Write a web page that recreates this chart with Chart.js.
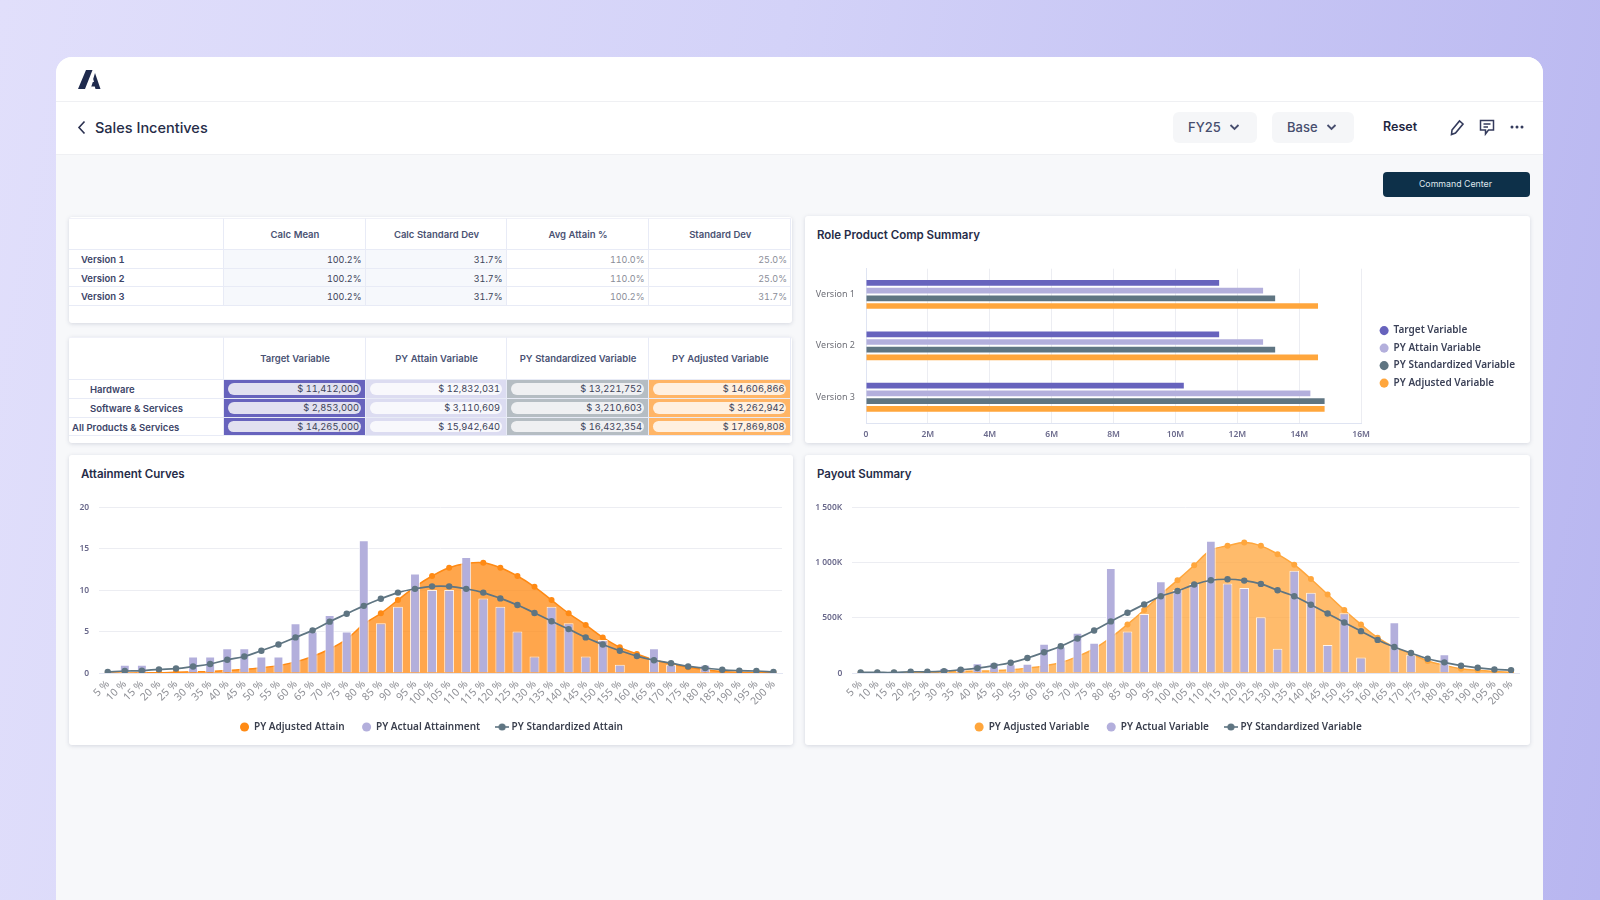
<!DOCTYPE html>
<html>
<head>
<meta charset="utf-8">
<title>Sales Incentives</title>
<script src="https://cdn.jsdelivr.net/npm/chart.js@4"></script>
<style>
* { box-sizing: border-box; }
html, body { margin: 0; width: 1600px; height: 900px; overflow: hidden; }
body { background: linear-gradient(100deg, #e1dffb 0%, #d3d2f8 45%, #b8b6f0 100%); font-family: Inter, sans-serif; position: relative; }
.abs { position: absolute; }
#page { left: 56px; top: 57px; width: 1487px; height: 860px; background: #f7f8fa; border-radius: 16px 16px 0 0; }
#topbar { left: 56px; top: 57px; width: 1487px; height: 45px; background: #fff; border-radius: 16px 16px 0 0; border-bottom: 1px solid #eff0f3; }
#navbar { left: 56px; top: 102px; width: 1487px; height: 53px; background: #fff; border-bottom: 1px solid #eff0f3; }
#title { left: 95px; top: 117px; font-size: 14.5px; font-weight: 500; color: #262c48; line-height: 21px; }
.pill { top: 112px; height: 31px; background: #f5f6f8; border-radius: 6px; font-size: 13px; font-weight: 500; color: #474e6e; line-height: 31px; padding-left: 15px; }
#reset { left: 1383px; top: 117px; font-size: 12.5px; font-weight: 600; color: #1d2540; line-height: 20px; }
#command { left: 1383px; top: 172px; width: 147px; height: 25px; background: #0d3049; border-radius: 4px; color: #dfe6ec; font-size: 8.8px; line-height: 24px; text-align: center; padding-right: 2px; }
.card { background: #fff; border-radius: 3px; box-shadow: 0 1px 4px rgba(60, 70, 110, 0.18); }
.cardtitle { font-size: 11.5px; font-weight: 600; color: #262c48; line-height: 16px; }
.grid { display: grid; left: 69px; width: 722px; grid-template-columns: 154.5px 142px 141px 142px 142.5px; font-variant-numeric: tabular-nums; }
.cell { border-right: 1px solid #e8ebf6; border-bottom: 1px solid #e8ebf6; font-size: 9px; color: #3c4258; text-align: right; padding-right: 3px; position: relative; }
.head { font-weight: 600; color: #4a5273; text-align: center; padding: 0 0 0 2px; font-size: 9.5px; border-top: 1px solid #f0f1f8; }
.rowname { font-weight: 600; font-size: 9.5px; color: #3c4468; text-align: left; padding-left: 12px; }
.tint { background: #f6f8fc; }
.soft { color: #8a8d98; }
.fill { padding: 0; }
.fill span { position: absolute; left: 4px; right: 4px; top: 3px; bottom: 3px; border-radius: 7px; line-height: 12px; padding-right: 1.5px; text-align: right; font-size: 9.3px; }
canvas { position: absolute; }
</style>
</head>
<body>
<div class="abs" id="page"></div>
<div class="abs" id="topbar"></div>
<div class="abs" id="navbar"></div>
<svg class="abs" style="left:78px;top:70px" width="23" height="19" viewBox="0 0 23 19"><path d="M0 19 L8 0 H14.5 L7 19 Z M12.5 19 L14.8 12 H16 L15.2 9 L17 3 L22.5 19 H17.5 L16.8 16.5 H13.2 Z" fill="#1f2a4d"/></svg>
<svg class="abs" style="left:77px;top:120px" width="10" height="15" viewBox="0 0 10 15"><path d="M7.5 1.5 L2 7.5 L7.5 13.5" fill="none" stroke="#2b3150" stroke-width="1.6"/></svg>
<div class="abs" id="title">Sales Incentives</div>
<div class="abs pill" style="left:1173px;width:84px">FY25<svg class="abs" style="left:56px;top:11px" width="11" height="9" viewBox="0 0 11 9"><path d="M1.5 2 L5.5 6 L9.5 2" fill="none" stroke="#474e6e" stroke-width="1.8"/></svg></div>
<div class="abs pill" style="left:1272px;width:82px">Base<svg class="abs" style="left:54px;top:11px" width="11" height="9" viewBox="0 0 11 9"><path d="M1.5 2 L5.5 6 L9.5 2" fill="none" stroke="#474e6e" stroke-width="1.8"/></svg></div>
<div class="abs" id="reset">Reset</div>
<svg class="abs" style="left:1449px;top:119px" width="16" height="17" viewBox="0 0 16 17"><path d="M3 11 L10.5 2 L14 5 L6.5 14 L2.5 15.5 Z" fill="none" stroke="#343b5c" stroke-width="1.6"/></svg>
<svg class="abs" style="left:1479px;top:119px" width="16" height="17" viewBox="0 0 16 17"><path d="M1.5 1.5 H14.5 V11 H9.5 L6.5 15 V11 H1.5 Z M4.5 5 H11.5 M4.5 8 H9" fill="none" stroke="#343b5c" stroke-width="1.5"/></svg>
<svg class="abs" style="left:1510px;top:124px" width="14" height="6" viewBox="0 0 14 6"><circle cx="2" cy="3" r="1.5" fill="#343b5c"/><circle cx="7" cy="3" r="1.5" fill="#343b5c"/><circle cx="12" cy="3" r="1.5" fill="#343b5c"/></svg>
<div class="abs" id="command">Command Center</div>

<div class="abs card" style="left:69px;top:217px;width:723px;height:106px"></div>
<div class="abs grid" id="statsGrid" style="top:218px;grid-template-rows:32px 19px 18px 19px"></div>
<div class="abs card" style="left:69px;top:337px;width:723px;height:106px"></div>
<div class="abs grid" id="compGrid" style="top:337px;grid-template-rows:43px 19px 18.5px 18.5px"></div>

<div class="abs card" style="left:805px;top:216px;width:725px;height:227px"></div>
<div class="abs cardtitle" style="left:817px;top:227px">Role Product Comp Summary</div>
<canvas id="roleChart"></canvas>

<div class="abs card" style="left:69px;top:455px;width:724px;height:290px"></div>
<div class="abs cardtitle" style="left:81px;top:466px">Attainment Curves</div>
<canvas id="attainChart"></canvas>

<div class="abs card" style="left:805px;top:455px;width:725px;height:290px"></div>
<div class="abs cardtitle" style="left:817px;top:466px">Payout Summary</div>
<canvas id="payoutChart"></canvas>

<script>
var bandLabels = ["5 %","10 %","15 %","20 %","25 %","30 %","35 %","40 %","45 %","50 %","55 %","60 %","65 %","70 %","75 %","80 %","85 %","90 %","95 %","100 %","105 %","110 %","115 %","120 %","125 %","130 %","135 %","140 %","145 %","150 %","155 %","160 %","165 %","170 %","175 %","180 %","185 %","190 %","195 %","200 %"];

var attainAdjusted = [0,0,0.05,0.05,0.1,0.15,0.2,0.3,0.45,0.65,0.9,1.35,2,2.9,4.1,5.9,7.2,8.8,10.4,11.7,12.7,13.2,13.3,12.7,11.7,10.4,8.8,7.2,5.8,4.3,3.1,2.3,1.6,1.1,0.7,0.4,0.2,0.1,0.08,0.03];
var attainActual = [0,1,1,0,0,2,2,3,3,2,2,6,5,7,5,16,6,8,12,10,10,14,9,8,5,2,8,6,2,4,1,0,3,1,0,1,0,0,0,0];
var attainStandard = [0.15,0.25,0.3,0.45,0.55,0.8,1.1,1.6,2,2.7,3.45,4.3,5.15,6.2,7.15,8.1,8.95,9.7,10.15,10.45,10.45,10.15,9.7,9,8.2,7.25,6.25,5.3,4.3,3.45,2.7,2.05,1.55,1.2,0.8,0.6,0.4,0.3,0.25,0.15];

var payoutAdjusted = [3,3,3,5,6,10,14,18,22,30,45,65,95,150,220,320,440,570,710,840,975,1110,1150,1180,1150,1075,980,850,710,570,440,320,235,175,110,70,40,25,15,8];
var payoutActual = [0,0,0,0,0,45,50,90,95,80,85,265,240,365,275,950,375,535,830,750,805,1195,810,770,505,220,925,725,255,540,140,0,460,165,0,170,0,0,0,0];
var payoutStandard = [6,6,6,12,12,18,30,45,67,94,136,188,242,312,385,467,545,621,694,742,800,839,848,836,806,748,694,618,539,457,379,300,236,182,130,97,67,48,33,27];

var roleVersions = ["Version 1","Version 2","Version 3"];
var roleTarget = [11.412,11.412,10.27];
var roleAttain = [12.832,12.832,14.36];
var roleStandard = [13.222,13.222,14.82];
var roleAdjusted = [14.607,14.607,14.82];

var statsHeads = ["Calc Mean","Calc Standard Dev","Avg Attain %","Standard Dev"];
var statsRows = ["Version 1","Version 2","Version 3"];
var statsValues = [["100.2%","31.7%","110.0%","25.0%"],["100.2%","31.7%","110.0%","25.0%"],["100.2%","31.7%","100.2%","31.7%"]];

var compHeads = ["Target Variable","PY Attain Variable","PY Standardized Variable","PY Adjusted Variable"];
var compRows = ["Hardware","Software & Services","All Products & Services"];
var compValues = [["$ 11,412,000","$ 12,832,031","$ 13,221,752","$ 14,606,866"],["$ 2,853,000","$ 3,110,609","$ 3,210,603","$ 3,262,942"],["$ 14,265,000","$ 15,942,640","$ 16,432,354","$ 17,869,808"]];
var compCellColors = ["#6763bd","#dcdcf1","#b5bdc3","#ffb566"];
var compPillColors = ["#e1e0f0","#f8f8fc","#eff0f2","#fff0e0"];

var purple = "#b3afdc";
var slate = "#5f7582";
var chartFont = "'Noto Sans', sans-serif";

function addCell(grid, text, cls) {
    const cell = document.createElement("div");
    cell.className = "cell " + cls;
    cell.textContent = text;
    grid.appendChild(cell);
    return cell;
}

function centerCell(cell) {
    cell.style.display = "flex";
    cell.style.alignItems = "center";
    cell.style.justifyContent = "center";
}

function rowCell(cell) {
    cell.style.lineHeight = "19.5px";
}

var statsGrid = document.getElementById("statsGrid");
centerCell(addCell(statsGrid, "", "head"));
statsHeads.forEach(function (h) {
    centerCell(addCell(statsGrid, h, "head"));
});
statsRows.forEach(function (name, r) {
    rowCell(addCell(statsGrid, name, "rowname"));
    statsValues[r].forEach(function (v, c) {
        rowCell(addCell(statsGrid, v, c < 2 ? "tint" : "soft"));
    });
});

var compGrid = document.getElementById("compGrid");
centerCell(addCell(compGrid, "", "head"));
compHeads.forEach(function (h) {
    centerCell(addCell(compGrid, h, "head"));
});
compRows.forEach(function (name, r) {
    const head = addCell(compGrid, name, "rowname");
    rowCell(head);
    head.style.paddingLeft = r == 2 ? "3px" : "21px";
    compValues[r].forEach(function (v, c) {
        const cell = addCell(compGrid, "", "fill");
        cell.style.background = compCellColors[c];
        const pill = document.createElement("span");
        pill.textContent = v;
        pill.style.background = compPillColors[c];
        cell.appendChild(pill);
    });
});

function placeCanvas(id, left, top, width, height) {
    const canvas = document.getElementById(id);
    canvas.style.left = left + "px";
    canvas.style.top = top + "px";
    canvas.width = width;
    canvas.height = height;
    canvas.style.width = width + "px";
    canvas.style.height = height + "px";
    return canvas.getContext("2d");
}

// line with a dot on it, only for the legend
function lineGlyph(color) {
    const c = document.createElement("canvas");
    c.width = 14;
    c.height = 10;
    const g = c.getContext("2d");
    g.strokeStyle = color;
    g.lineWidth = 1.6;
    g.beginPath();
    g.moveTo(0, 5);
    g.lineTo(14, 5);
    g.stroke();
    g.fillStyle = color;
    g.beginPath();
    g.arc(7, 5, 3.6, 0, Math.PI * 2);
    g.fill();
    return c;
}

// nudges the legend sideways after the chart has been laid out
function legendShift(dx) {
    return {
        id: "legendShift",
        afterLayout: function (chart) {
            chart.legend.left += dx;
            chart.legend.right += dx;
        },
    };
}

function curveChart(id, box, names, adjusted, actual, standard, adjustedColor, adjustedFill, yMax, yStep, yLabel, yWidth, legendPad) {
    return new Chart(placeCanvas(id, box[0], box[1], box[2], box[3]), {
        type: "bar",
        plugins: [legendShift(6)],
        data: {
            labels: bandLabels,
            datasets: [
                {
                    type: "line",
                    label: names[0],
                    data: adjusted,
                    borderColor: adjustedColor,
                    backgroundColor: adjustedFill,
                    pointBackgroundColor: adjustedColor,
                    pointBorderWidth: 0,
                    pointRadius: 3,
                    borderWidth: 1.5,
                    tension: 0.4,
                    fill: "origin",
                    order: 2,
                },
                {
                    label: names[1],
                    data: actual,
                    backgroundColor: purple,
                    borderColor: "rgba(255,255,255,0.85)",
                    borderWidth: { left: 1, right: 1, top: 1, bottom: 0 },
                    barPercentage: 1,
                    categoryPercentage: 0.58,
                    order: 1,
                },
                {
                    type: "line",
                    label: names[2],
                    data: standard,
                    borderColor: slate,
                    backgroundColor: slate,
                    pointBackgroundColor: slate,
                    pointBorderWidth: 0,
                    pointRadius: 3.2,
                    borderWidth: 1.7,
                    tension: 0.4,
                    fill: false,
                    order: 0,
                },
            ],
        },
        options: {
            responsive: false,
            animation: false,
            layout: { padding: { left: 0, right: box[4], top: box[5], bottom: 0 } },
            plugins: {
                tooltip: { enabled: false },
                legend: {
                    position: "bottom",
                    labels: {
                        usePointStyle: true,
                        boxWidth: 9,
                        boxHeight: 6.4,
                        padding: legendPad,
                        color: "#3a3f4d",
                        font: { family: chartFont, size: 10, weight: "600" },
                        generateLabels: function (chart) {
                            // default labels come sorted by draw order, put them back in dataset order
                            const items = Chart.defaults.plugins.legend.labels.generateLabels(chart);
                            items.sort(function (a, b) {
                                return a.datasetIndex - b.datasetIndex;
                            });
                            items[0].fillStyle = adjustedColor;
                            items[0].strokeStyle = adjustedColor;
                            items[0].pointStyle = "circle";
                            items[1].fillStyle = purple;
                            items[1].strokeStyle = purple;
                            items[1].lineWidth = 0;
                            items[1].pointStyle = "circle";
                            items[2].pointStyle = lineGlyph(slate);
                            return items;
                        },
                    },
                },
            },
            scales: {
                x: {
                    offset: true,
                    grid: { display: false },
                    border: { color: "#e3e6f2" },
                    ticks: { autoSkip: false, minRotation: 45, maxRotation: 45, padding: -3, color: "#8f9096", font: { family: chartFont, size: 10.5 } },
                    afterFit: function (scale) {
                        scale.height = 31.4;
                    },
                },
                y: {
                    min: 0,
                    max: yMax,
                    ticks: {
                        stepSize: yStep,
                        color: "#6b6a8c",
                        padding: 10,
                        font: { family: chartFont, size: 8.5, weight: "600" },
                        callback: yLabel,
                    },
                    grid: { color: "#ecedf2", drawTicks: false },
                    border: { display: false },
                    afterFit: function (scale) {
                        scale.width = yWidth;
                    },
                },
            },
        },
    });
}

function plainNumber(value) {
    return value;
}

function thousands(value) {
    if (value == 0) return "0";
    if (value < 1000) return value + "K";
    return Math.floor(value / 1000) + " " + String(value % 1000).padStart(3, "0") + "K";
}

curveChart("attainChart", [69, 492, 724, 250, 11, 7.6], ["PY Adjusted Attain", "PY Actual Attainment", "PY Standardized Attain"], attainAdjusted, attainActual, attainStandard, "#ff8a14", "rgba(255,138,20,0.76)", 20, 5, plainNumber, 30.2, 17.5);

curveChart("payoutChart", [805, 492, 725, 250, 10.6, 7.6], ["PY Adjusted Variable", "PY Actual Variable", "PY Standardized Variable"], payoutAdjusted, payoutActual, payoutStandard, "#ffa63c", "rgba(255,166,60,0.76)", 1500, 500, thousands, 47.3, 17.5);

new Chart(placeCanvas("roleChart", 805, 257, 725, 188), {
    type: "bar",
    plugins: [legendShift(11)],
    data: {
        labels: roleVersions,
        datasets: [
            { label: "Target Variable", data: roleTarget, backgroundColor: "#6763bd" },
            { label: "PY Attain Variable", data: roleAttain, backgroundColor: purple },
            { label: "PY Standardized Variable", data: roleStandard, backgroundColor: slate },
            { label: "PY Adjusted Variable", data: roleAdjusted, backgroundColor: "#ffa63c" },
        ],
    },
    options: {
        indexAxis: "y",
        responsive: false,
        animation: false,
        datasets: { bar: { categoryPercentage: 0.6, barPercentage: 0.74 } },
        layout: { padding: { left: 0, right: 16, top: 11.7, bottom: 0 } },
        plugins: {
            tooltip: { enabled: false },
            legend: {
                position: "right",
                labels: {
                    usePointStyle: true,
                    pointStyle: "circle",
                    boxWidth: 9,
                    boxHeight: 6.4,
                    padding: 7.5,
                    color: "#3c4258",
                    font: { family: chartFont, size: 10, weight: "600" },
                },
            },
        },
        scales: {
            x: {
                min: 0,
                max: 16,
                ticks: {
                    stepSize: 2,
                    color: "#6b6a8c",
                    padding: 6,
                    font: { family: chartFont, size: 8.5, weight: "600" },
                    callback: function (value) {
                        return value == 0 ? "0" : value + "M";
                    },
                },
                grid: { color: "#ecedf2", drawTicks: false },
                border: { color: "#dfe4f2" },
                afterFit: function (scale) {
                    scale.height = 22;
                },
            },
            y: {
                grid: { display: false },
                border: { color: "#dfe4f2" },
                ticks: { color: "#6f7078", padding: 3, font: { family: chartFont, size: 9 } },
                afterFit: function (scale) {
                    scale.width = 61;
                },
            },
        },
    },
});
</script>
</body>
</html>
